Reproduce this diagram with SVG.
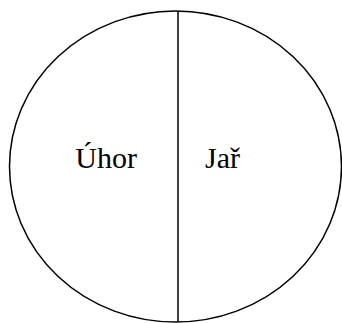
<svg xmlns="http://www.w3.org/2000/svg" width="342" height="323" viewBox="0 0 342 323">
<style>
.s{fill:none;stroke:#000;stroke-width:1.5}
.t{font-family:"Liberation Serif","Times New Roman",serif;font-size:30px;fill:#000}
</style>
<rect width="342" height="323" fill="#fff"/>
<g id="circle"><ellipse class="s" cx="175.5" cy="166.5" rx="166" ry="155.5"/></g>
<g id="connectors"><line class="s" x1="178" y1="11" x2="178" y2="322"/></g>
<g id="uhor"><text class="t" x="137" y="168" text-anchor="end">Úhor</text></g>
<g id="jar"><text class="t" x="205" y="168">Jař</text></g>
</svg>
